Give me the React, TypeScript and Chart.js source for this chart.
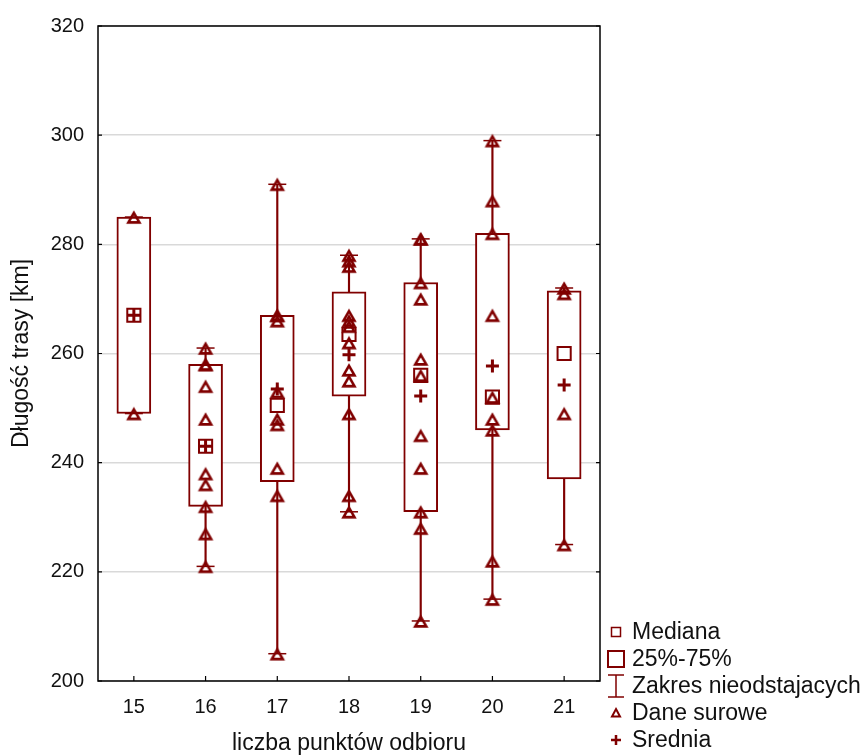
import React, { useEffect, useRef } from 'react';
import { Chart, registerables } from 'chart.js';

Chart.register(...registerables);

// ---- data ----
const categories = [15, 16, 17, 18, 19, 20, 21];
const yTicks = [200, 220, 240, 260, 280, 300, 320];

const q1 = [249, 232, 236.5, 252.2, 231, 246, 237];
const q3 = [285, 258, 267, 271.3, 273, 282, 271.5];
const medians = [267, 243, 250.5, 263.5, 256, 252, 260];
const means = [267, 243, 253.5, 259.75, 252.2, 257.7, 254.25];
const whiskerLow = [249, 221, 205, 231, 211, 215, 225];
const whiskerHigh = [285, 261, 291, 278, 281, 299, 272];

const raw15 = [285, 249];
const raw16 = [261, 258, 258, 254, 248, 238, 236, 232, 227, 221];
const raw17 = [291, 267, 267, 266, 253, 248, 247, 239, 234, 205];
const raw18 = [278, 277, 276, 267, 266, 265, 262, 257, 255, 249, 234, 231];
const raw19 = [281, 281, 273, 270, 259, 256, 245, 239, 231, 228, 211];
const raw20 = [299, 288, 282, 267, 252, 248, 246, 222, 215];
const raw21 = [272, 271, 249, 225];
const rawData = [raw15, raw16, raw17, raw18, raw19, raw20, raw21];

const legendLabels = ['Mediana', '25%-75%', 'Zakres nieodstajacych', 'Dane surowe', 'Srednia'];

const xTitle = 'liczba punktów odbioru';
const yTitle = 'Długość trasy [km]';

// ---- style ----
const MAROON = '#800000';
const FONT = '"Liberation Sans", Arial, sans-serif';

function makeTriangle(size: number, w: number, h: number, lw: number): HTMLCanvasElement {
  const c = document.createElement('canvas');
  c.width = size;
  c.height = size;
  const ctx = c.getContext('2d')!;
  const cx = size / 2;
  const topY = size / 2 - h / 2 + 0.6;
  const botY = size / 2 + h / 2 + 0.6;
  ctx.strokeStyle = MAROON;
  ctx.lineWidth = lw;
  ctx.lineJoin = 'miter';
  ctx.beginPath();
  ctx.moveTo(cx, topY);
  ctx.lineTo(cx + w / 2, botY);
  ctx.lineTo(cx - w / 2, botY);
  ctx.closePath();
  ctx.stroke();
  return c;
}

const framePlugin = {
  id: 'frameAndLegend',
  afterDraw(chart: any) {
    const { ctx, chartArea, scales } = chart;
    const { left, right, top, bottom } = chartArea;
    ctx.save();
    // frame
    ctx.strokeStyle = '#000';
    ctx.lineWidth = 1.5;
    ctx.strokeRect(left, top, right - left, bottom - top);
    // inward ticks
    ctx.lineWidth = 1.2;
    ctx.beginPath();
    scales.y.ticks.forEach((t: any) => {
      const py = scales.y.getPixelForValue(t.value);
      ctx.moveTo(left, py);
      ctx.lineTo(left + 4, py);
      ctx.moveTo(right, py);
      ctx.lineTo(right - 4, py);
    });
    scales.x.ticks.forEach((t: any) => {
      const px = scales.x.getPixelForValue(t.value);
      ctx.moveTo(px, bottom);
      ctx.lineTo(px, bottom - 5);
    });
    ctx.stroke();

    // legend
    const lx = right + 16; // symbol centre x
    const tx = right + 32;
    const y0 = 632;
    const dy = 27;
    ctx.strokeStyle = MAROON;
    ctx.fillStyle = MAROON;
    // Mediana: small square
    ctx.lineWidth = 1.5;
    ctx.strokeRect(lx - 4.5, y0 - 4.5, 9, 9);
    // 25-75: big square
    ctx.lineWidth = 2;
    ctx.strokeRect(lx - 8, y0 + dy - 8, 16, 16);
    // whisker I
    ctx.lineWidth = 1.5;
    ctx.beginPath();
    const wy = y0 + 2 * dy;
    ctx.moveTo(lx - 8, wy - 11);
    ctx.lineTo(lx + 8, wy - 11);
    ctx.moveTo(lx, wy - 11);
    ctx.lineTo(lx, wy + 11);
    ctx.moveTo(lx - 8, wy + 11);
    ctx.lineTo(lx + 8, wy + 11);
    ctx.stroke();
    // triangle
    const ty = y0 + 3 * dy;
    ctx.lineWidth = 2;
    ctx.beginPath();
    ctx.moveTo(lx, ty - 4);
    ctx.lineTo(lx + 4, ty + 3.5);
    ctx.lineTo(lx - 4, ty + 3.5);
    ctx.closePath();
    ctx.stroke();
    // cross
    const cy = y0 + 4 * dy;
    ctx.lineWidth = 2.5;
    ctx.beginPath();
    ctx.moveTo(lx - 5, cy);
    ctx.lineTo(lx + 5, cy);
    ctx.moveTo(lx, cy - 5);
    ctx.lineTo(lx, cy + 5);
    ctx.stroke();

    ctx.fillStyle = '#111';
    ctx.font = `23px ${FONT}`;
    ctx.textBaseline = 'middle';
    ctx.textAlign = 'left';
    legendLabels.forEach((label, i) => {
      ctx.fillText(label, tx, y0 + i * dy + 1);
    });
    ctx.restore();
  },
};

export default function App() {
  const canvasRef = useRef<HTMLCanvasElement | null>(null);

  useEffect(() => {
    const canvas = canvasRef.current;
    if (!canvas) return;

    const triImg = makeTriangle(18, 11, 9.5, 2.6);

    const whiskers = categories.map((c, i) => ({ x: c, y: [whiskerLow[i], whiskerHigh[i]] }));
    const boxes = categories.map((c, i) => ({ x: c, y: [q1[i], q3[i]] }));
    const caps: { x: number; y: number }[] = [];
    categories.forEach((c, i) => {
      caps.push({ x: c, y: whiskerLow[i] });
      caps.push({ x: c, y: whiskerHigh[i] });
    });
    const raw: { x: number; y: number }[] = [];
    categories.forEach((c, i) => rawData[i].forEach((v) => raw.push({ x: c, y: v })));
    const med = categories.map((c, i) => ({ x: c, y: medians[i] }));
    const avg = categories.map((c, i) => ({ x: c, y: means[i] }));

    const chart = new Chart(canvas, {
      type: 'bar',
      data: {
        datasets: [
          {
            type: 'bar',
            data: whiskers as any,
            backgroundColor: MAROON,
            borderWidth: 0,
            barThickness: 1.5,
            grouped: false,
            order: 6,
          } as any,
          {
            type: 'bar',
            data: boxes as any,
            backgroundColor: '#ffffff',
            borderColor: MAROON,
            borderWidth: 2,
            borderSkipped: false,
            barThickness: 34,
            grouped: false,
            order: 5,
          } as any,
          {
            type: 'scatter',
            data: caps,
            pointStyle: 'line',
            pointRadius: 9,
            borderColor: MAROON,
            pointBorderWidth: 1.5,
            order: 4,
          } as any,
          {
            type: 'scatter',
            data: raw,
            pointStyle: triImg,
            pointRadius: 6,
            order: 3,
          } as any,
          {
            type: 'scatter',
            data: med,
            pointStyle: 'rect',
            pointRadius: 9.3,
            borderColor: MAROON,
            backgroundColor: 'rgba(0,0,0,0)',
            pointBorderWidth: 2,
            order: 2,
          } as any,
          {
            type: 'scatter',
            data: avg,
            pointStyle: 'cross',
            pointRadius: 6.5,
            borderColor: MAROON,
            pointBorderWidth: 3,
            order: 1,
          } as any,
        ],
      },
      options: {
        responsive: false,
        animation: false,
        events: [],
        layout: { padding: { left: 0, right: 263, top: 26, bottom: 0 } },
        plugins: {
          legend: { display: false },
          tooltip: { enabled: false },
        },
        scales: {
          x: {
            type: 'linear',
            min: 14.5,
            max: 21.5,
            offset: false,
            grid: { display: false, offset: false },
            border: { display: false },
            afterBuildTicks: (scale: any) => {
              scale.ticks = categories.map((v) => ({ value: v }));
            },
            afterFit: (scale: any) => {
              scale.height = 75;
            },
            ticks: {
              autoSkip: false,
              maxRotation: 0,
              padding: 6,
              color: '#111',
              font: { family: FONT, size: 20 },
              callback: (v: any) => String(v),
            },
            title: {
              display: true,
              text: xTitle,
              color: '#111',
              font: { family: FONT, size: 23 },
              padding: { top: 0, bottom: -1 },
            },
          } as any,
          y: {
            type: 'linear',
            min: 200,
            max: 320,
            grid: {
              color: '#d9d9d9',
              lineWidth: 1.5,
              drawTicks: false,
            },
            border: { display: false },
            afterBuildTicks: (scale: any) => {
              scale.ticks = yTicks.map((v) => ({ value: v }));
            },
            afterFit: (scale: any) => {
              scale.width = 98;
            },
            ticks: {
              padding: 14,
              color: '#111',
              font: { family: FONT, size: 20 },
              callback: (v: any) => String(v),
            },
            title: {
              display: true,
              text: yTitle,
              color: '#111',
              font: { family: FONT, size: 23 },
              padding: { top: 8, bottom: 0 },
            },
          } as any,
        },
      },
      plugins: [framePlugin],
    });

    return () => chart.destroy();
  }, []);

  return (
    <div style={{ position: 'absolute', left: 0, top: 0, width: 863, height: 756, background: '#fff' }}>
      <canvas ref={canvasRef} width={863} height={756} />
    </div>
  );
}
